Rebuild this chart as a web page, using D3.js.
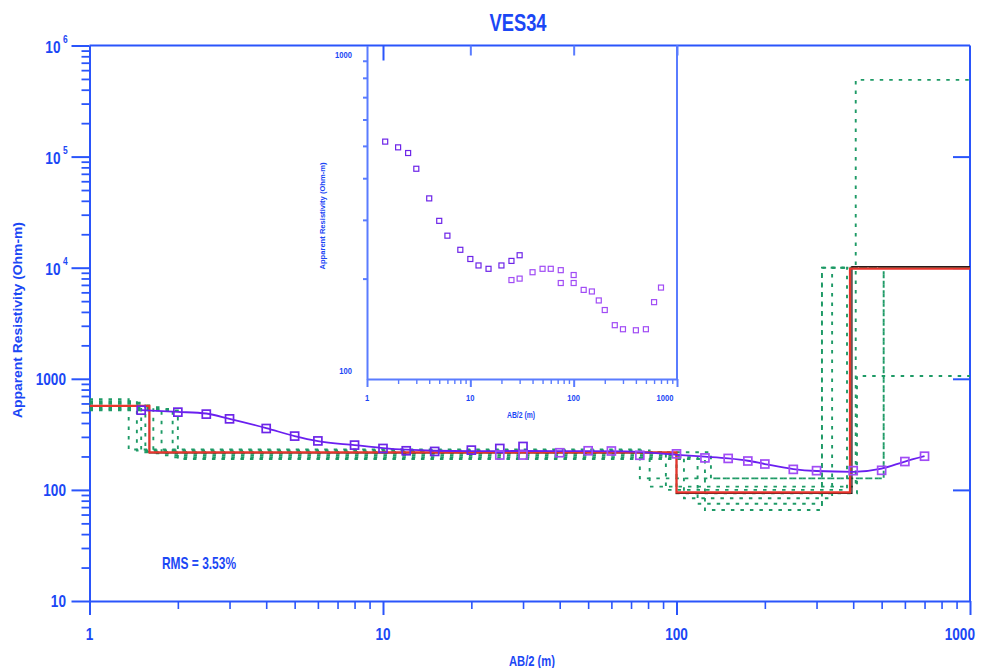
<!DOCTYPE html>
<html>
<head>
<meta charset="utf-8">
<script src="https://cdn.jsdelivr.net/npm/d3@7"></script>
<style>
  body { margin: 0; background: #fff; }
  svg { display: block; }
  text { font-family: "Liberation Sans Narrow", "Arial Narrow", "Liberation Sans", Arial, sans-serif; font-weight: bold; }
</style>
</head>
<body>
<svg id="chart" width="985" height="668"></svg>
<script>
// ---- Sounding VES34: AB/2 (m) and apparent resistivity (Ohm-m) ----
const abSpacing   = [1.5, 2, 2.5, 3, 4, 5, 6, 8, 10, 12, 15, 20, 25, 30, 25, 30, 40, 50, 60, 75, 100, 125, 150, 175, 200, 250, 300, 400, 500, 600, 700];
const rhoApparent = [522, 501, 481, 436, 357, 305, 276, 253, 236, 225, 222, 228, 236, 246, 206, 206, 216, 225, 224, 205, 211, 194, 192, 182, 171, 153, 149, 149, 150, 180, 201];
const firstSegmentCount = 14;

// Raw field readings (inset), including overlapping segments
const abField  = [1.5, 2, 2.5, 3, 4, 5, 6, 8, 10, 12, 15, 20, 25, 30, 25, 30, 40, 50, 60, 75, 75, 100, 100, 125, 150, 175, 200, 250, 300, 400, 500, 600, 700];
const rhoField = [515, 495, 476, 427, 348, 298, 269, 244, 229, 219, 214, 219, 226, 235, 198, 200, 209, 214, 214, 212, 194, 205, 194, 185, 183, 172, 161, 145, 141, 140, 141, 170, 188];

// Calculated response of the fitted model
const curveAB  = [1.5, 2, 2.5, 3, 4, 5, 6, 8, 10, 12, 15, 20, 30, 40, 50, 67, 100, 125, 150, 175, 200, 250, 300, 400, 500, 600, 700];
const curveRho = [522, 504, 487, 436, 360, 305, 275, 253, 238, 230, 225, 223, 224, 223, 223, 222, 207, 199, 192, 183, 171, 154, 148, 145.5, 155.5, 180, 201];

// Layered model: depths to the bottom of each layer (m) and layer resistivities (Ohm-m)
const modelDepth = [1.6, 100, 390];
const modelRho   = [570, 218, 95, 9800];
const startDepth = [1.6, 100, 396];
const startRho   = [565, 216, 93, 10200];

// Equivalent models
const eqDepths = [
  [1.36, 75, 508],
  [1.45, 81, 408],
  [1.55, 92, 381],
  [1.65, 100, 412],
  [1.76, 106, 339],
  [1.92, 118, 313],
  [2.0, 125, 313],
  [1.5, 131, 508]
];
const eqRhos = [
  [655, 231, 127, 10000],
  [630, 226, 107, 490000],
  [600, 220, 100, 10000],
  [575, 214, 93, 1060],
  [555, 205, 84, 10000],
  [535, 197, 75, 10000],
  [520, 190, 66, 10000],
  [610, 218, 127, 10000]
];

const rmsText = "RMS = 3.53%";
const xMajor = [1, 10, 100, 1000];
const yMajor = [10, 100, 1000, 1e4, 1e5, 1e6];
const insetYMajor = [100, 1000];

// ---- Drawing ----
const AXIS = "#2a55fb", TEXT = "#1b47f5", INSET = "#5a7cff";
const GREEN = "#1e9a66", RED = "#e8352c", PURPLE = "#6a1ff0";
const SQ_DARK = "#6d25e8", SQ_LIGHT = "#a14cf5";

const svg = d3.select("#chart");
svg.append("rect").attr("width", 985).attr("height", 668).attr("fill", "#fff");

// condensed lettering: squeeze a text horizontally to a fraction of its natural width
function narrow(sel, ratio, fixed) {
  sel.each(function () {
    const len = fixed || this.getComputedTextLength() * ratio;
    this.setAttribute("textLength", len);
    this.setAttribute("lengthAdjust", "spacingAndGlyphs");
  });
  return sel;
}

const x = d3.scaleLog().domain([1, 1000]).range([89.5, 970]);
const y = d3.scaleLog().domain([10, 1e6]).range([601, 45.5]);

function minorTicks(lo, hi) {
  const t = [];
  for (let d = lo; d < hi; d *= 10) for (let k = 2; k <= 9; k++) t.push(d * k);
  return t;
}
function styleAxis(g, color, width) {
  g.selectAll("path.domain").attr("stroke", color).attr("stroke-width", width);
  g.selectAll(".tick line").attr("stroke", color).attr("stroke-width", width);
  g.selectAll(".tick text").remove();
}

// frame lines
const frame = svg.append("g");
frame.append("line").attr("x1", x(1)).attr("x2", x(1000)).attr("y1", y(1e6)).attr("y2", y(1e6));
frame.append("line").attr("x1", x(1000)).attr("x2", x(1000)).attr("y1", y(1e6)).attr("y2", y(10));
frame.selectAll("line").attr("stroke", AXIS).attr("stroke-width", 2);

// left axis
const gl = svg.append("g").attr("transform", `translate(${x(1)},0)`);
gl.call(d3.axisLeft(y).tickValues(yMajor).tickSize(18).tickSizeOuter(0).tickFormat(""));
styleAxis(gl, AXIS, 2);
const glm = svg.append("g").attr("transform", `translate(${x(1)},0)`);
glm.call(d3.axisLeft(y).tickValues(minorTicks(10, 1e6)).tickSize(8).tickSizeOuter(0).tickFormat(""));
styleAxis(glm, AXIS, 1.8);
glm.select("path.domain").remove();

// bottom axis
const gb = svg.append("g").attr("transform", `translate(0,${y(10)})`);
gb.call(d3.axisBottom(x).tickValues(xMajor).tickSize(14).tickSizeOuter(0).tickFormat(""));
styleAxis(gb, AXIS, 2);
const gbm = svg.append("g").attr("transform", `translate(0,${y(10)})`);
gbm.call(d3.axisBottom(x).tickValues(minorTicks(1, 1000)).tickSize(8).tickSizeOuter(0).tickFormat(""));
styleAxis(gbm, AXIS, 1.6);
gbm.select("path.domain").remove();

// right axis (inward ticks)
const gr = svg.append("g").attr("transform", `translate(${x(1000)},0)`);
gr.call(d3.axisLeft(y).tickValues([100, 1000, 1e4, 1e5]).tickSize(17).tickSizeOuter(0).tickFormat(""));
styleAxis(gr, AXIS, 2);
gr.select("path.domain").remove();

// top axis (inward ticks)
const gt = svg.append("g").attr("transform", `translate(0,${y(1e6)})`);
gt.call(d3.axisBottom(x).tickValues([10, 100]).tickSize(15).tickSizeOuter(0).tickFormat(""));
styleAxis(gt, AXIS, 2);
gt.select("path.domain").remove();

// y tick labels (powers of ten above 1000 carry a raised exponent)
yMajor.forEach(v => {
  const exp = Math.round(Math.log10(v));
  if (exp <= 3) {
    narrow(svg.append("text").attr("x", 66).attr("y", y(v)).attr("dy", "0.36em")
      .attr("text-anchor", "end").attr("fill", TEXT).attr("font-size", 17).text(String(v)), 0.8);
  } else {
    narrow(svg.append("text").attr("x", 60.5).attr("y", y(v)).attr("dy", "0.42em")
      .attr("text-anchor", "end").attr("fill", TEXT).attr("font-size", 17).text("10"), 0.8);
    narrow(svg.append("text").attr("x", 63).attr("y", y(v) - 3)
      .attr("fill", TEXT).attr("font-size", 10.5).text(String(exp)), 0.8);
  }
});
// x tick labels
xMajor.forEach(v => {
  const last = v === 1000;
  const t = svg.append("text").attr("x", last ? 975 : x(v)).attr("y", 640)
    .attr("text-anchor", last ? "end" : "middle")
    .attr("fill", TEXT).attr("font-size", 17).text(String(v));
  narrow(t, 0.8);
});

// titles
narrow(svg.append("text").attr("x", 518).attr("y", 31).attr("text-anchor", "middle")
  .attr("fill", TEXT).attr("font-size", 23).text("VES34"), 0, 57);
svg.append("text").attr("transform", "translate(22,320) rotate(-90)").attr("text-anchor", "middle")
  .attr("fill", TEXT).attr("font-size", 13).attr("textLength", 196).attr("lengthAdjust", "spacingAndGlyphs")
  .text("Apparent Resistivity (Ohm-m)");
narrow(svg.append("text").attr("x", 532).attr("y", 666).attr("text-anchor", "middle")
  .attr("fill", TEXT).attr("font-size", 14).text("AB/2 (m)"), 0.8);
narrow(svg.append("text").attr("x", 162).attr("y", 569)
  .attr("fill", TEXT).attr("font-size", 17).text(rmsText), 0, 74);

// clip for plot content
svg.append("clipPath").attr("id", "plotClip").append("rect")
  .attr("x", x(1)).attr("y", y(1e6)).attr("width", x(1000) - x(1)).attr("height", y(10) - y(1e6));
const plot = svg.append("g").attr("clip-path", "url(#plotClip)");

function stepPoints(depths, rhos) {
  const pts = [[1, rhos[0]]];
  depths.forEach((d, i) => { pts.push([d, rhos[i]]); pts.push([d, rhos[i + 1]]); });
  pts.push([1000, rhos[rhos.length - 1]]);
  return pts;
}
const stepLine = d3.line().x(d => x(d[0])).y(d => y(d[1]));

// equivalent models
eqDepths.forEach((d, i) => {
  plot.append("path").attr("d", stepLine(stepPoints(d, eqRhos[i])))
    .attr("fill", "none").attr("stroke", GREEN).attr("stroke-width", 1.9)
    .attr("stroke-dasharray", "3.5,6");
});
// starting and fitted model
plot.append("path").attr("d", stepLine(stepPoints(startDepth, startRho)))
  .attr("fill", "none").attr("stroke", "#2a1a1a").attr("stroke-width", 1.3);
plot.append("path").attr("d", stepLine(stepPoints(modelDepth, modelRho)))
  .attr("fill", "none").attr("stroke", RED).attr("stroke-width", 2.2);

// calculated curve
const curveLine = d3.line().x((d, i) => x(curveAB[i])).y(d => y(d)).curve(d3.curveMonotoneX);
plot.append("path").attr("d", curveLine(curveRho))
  .attr("fill", "none").attr("stroke", PURPLE).attr("stroke-width", 1.8);

// observed points
const sq = 8;
plot.selectAll("rect.obs").data(rhoApparent).join("rect").attr("class", "obs")
  .attr("x", (d, i) => x(abSpacing[i]) - sq / 2).attr("y", d => y(d) - sq / 2)
  .attr("width", sq).attr("height", sq).attr("fill", "none")
  .attr("stroke", (d, i) => i < firstSegmentCount ? SQ_DARK : SQ_LIGHT).attr("stroke-width", 1.7);

// ---- Inset: field data ----
const xi = d3.scaleLog().domain([1, 1000]).range([367, 677]);
const yi = d3.scaleLog().domain([100, 1000]).range([379, 45.5]);
const inset = svg.append("g");
inset.append("line").attr("x1", xi(1000)).attr("x2", xi(1000)).attr("y1", yi(1000)).attr("y2", yi(100))
  .attr("stroke", INSET).attr("stroke-width", 2);
const il = inset.append("g").attr("transform", `translate(${xi(1)},0)`);
il.call(d3.axisLeft(yi).tickValues(minorTicks(100, 1000)).tickSize(4).tickSizeOuter(0).tickFormat(""));
styleAxis(il, INSET, 2);
const ib = inset.append("g").attr("transform", `translate(0,${yi(100)})`);
ib.call(d3.axisBottom(xi).tickValues(xMajor).tickSize(8).tickSizeOuter(0).tickFormat(""));
styleAxis(ib, INSET, 2);
const ibm = inset.append("g").attr("transform", `translate(0,${yi(100)})`);
ibm.call(d3.axisBottom(xi).tickValues(minorTicks(1, 1000)).tickSize(5).tickSizeOuter(0).tickFormat(""));
styleAxis(ibm, INSET, 1.4);
ibm.select("path.domain").remove();
const it = inset.append("g").attr("transform", `translate(0,${yi(1000)})`);
it.call(d3.axisBottom(xi).tickValues([10, 100, 1000]).tickSize(10).tickSizeOuter(0).tickFormat(""));
styleAxis(it, INSET, 2);
it.select("path.domain").remove();

insetYMajor.forEach(v => {
  narrow(inset.append("text").attr("x", 352).attr("y", v === 1000 ? 55 : 371).attr("dy", "0.36em")
    .attr("text-anchor", "end").attr("fill", TEXT).attr("font-size", 9.5).text(String(v)), 0.8);
});
xMajor.forEach(v => {
  narrow(inset.append("text").attr("x", v === 1000 ? xi(v) - 12 : xi(v)).attr("y", 401).attr("text-anchor", "middle")
    .attr("fill", TEXT).attr("font-size", 9.5).text(String(v)), 0.8);
});
narrow(inset.append("text").attr("x", 521).attr("y", 418).attr("text-anchor", "middle")
  .attr("fill", TEXT).attr("font-size", 8.5).text("AB/2 (m)"), 0.8);
inset.append("text").attr("transform", "translate(325,216) rotate(-90)").attr("text-anchor", "middle")
  .attr("fill", TEXT).attr("font-size", 8).attr("textLength", 107).attr("lengthAdjust", "spacingAndGlyphs")
  .text("Apparent Resistivity (Ohm-m)");

const sqi = 5;
inset.selectAll("rect.field").data(rhoField).join("rect").attr("class", "field")
  .attr("x", (d, i) => xi(abField[i]) - sqi / 2).attr("y", d => yi(d) - sqi / 2)
  .attr("width", sqi).attr("height", sqi).attr("fill", "none")
  .attr("stroke", (d, i) => i < firstSegmentCount ? SQ_DARK : SQ_LIGHT).attr("stroke-width", 1.2);
</script>
</body>
</html>
